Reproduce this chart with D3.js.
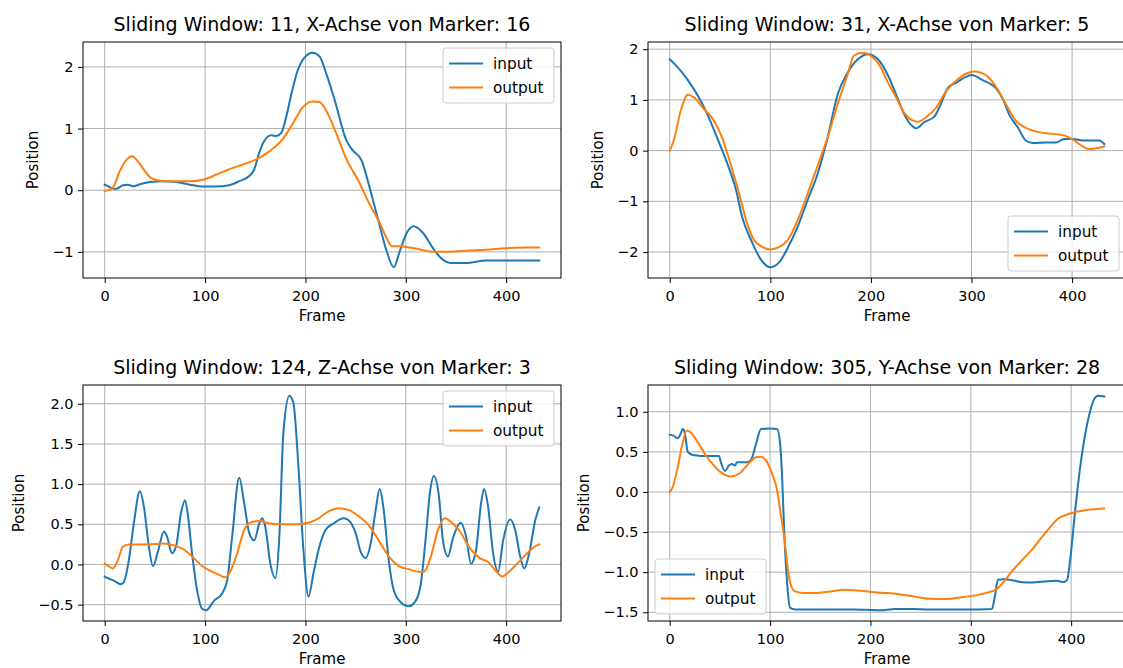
<!DOCTYPE html>
<html>
<head>
<meta charset="utf-8">
<script src="https://cdn.jsdelivr.net/npm/d3@7"></script>
<style>
  body { margin: 0; background: #fff; }
  svg { display: block; font-family: "DejaVu Sans", sans-serif; }
</style>
</head>
<body>
<div id="chart"></div>
<script>
// [frame, position]
const p1Input = [[0,0.09],[5,0.05],[11,0.02],[18,0.08],[23,0.09],[28,0.065],[36,0.10],[45,0.135],[58,0.146],[71,0.135],[85,0.09],[98,0.06],[111,0.06],[124,0.08],[134,0.146],[144,0.23],[149,0.34],[154,0.61],[159,0.80],[166,0.89],[171,0.88],[176,0.93],[181,1.20],[186,1.56],[192,1.93],[199,2.15],[207,2.23],[214,2.17],[221,1.88],[229,1.47],[241,0.80],[247,0.65],[256,0.48],[264,0.04],[272,-0.45],[281,-0.99],[288,-1.25],[294,-0.99],[301,-0.69],[308,-0.585],[317,-0.69],[327,-0.94],[335,-1.10],[345,-1.18],[360,-1.18],[380,-1.14],[400,-1.14],[420,-1.14],[433,-1.14]];
const p1Output = [[0,-0.015],[8,0.04],[15,0.31],[22,0.50],[27,0.55],[33,0.47],[40,0.31],[46,0.20],[58,0.146],[71,0.146],[85,0.146],[98,0.17],[111,0.25],[124,0.34],[138,0.42],[151,0.50],[164,0.63],[177,0.82],[187,1.07],[197,1.34],[207,1.44],[214,1.43],[221,1.28],[231,0.91],[241,0.50],[253,0.146],[264,-0.23],[274,-0.53],[281,-0.78],[286,-0.91],[294,-0.91],[304,-0.93],[314,-0.96],[327,-1.00],[340,-1.00],[360,-0.98],[380,-0.965],[400,-0.94],[420,-0.93],[433,-0.93]];

const p2Input = [[0,1.80],[8,1.64],[18,1.39],[28,1.08],[38,0.69],[47,0.26],[59,-0.35],[66,-0.78],[72,-1.31],[81,-1.77],[91,-2.16],[100,-2.30],[109,-2.20],[117,-1.93],[127,-1.51],[137,-0.98],[147,-0.46],[157,0.26],[167,1.11],[177,1.54],[187,1.80],[197,1.90],[207,1.80],[217,1.48],[225,1.11],[233,0.72],[242,0.47],[245,0.44],[253,0.56],[263,0.67],[268,0.85],[277,1.25],[285,1.34],[293,1.44],[300,1.49],[311,1.39],[325,1.21],[331,1.02],[338,0.69],[346,0.46],[354,0.20],[361,0.15],[374,0.16],[384,0.16],[392,0.23],[401,0.23],[411,0.20],[421,0.20],[427,0.20],[432,0.13]];
const p2Output = [[0,0],[4,0.20],[11,0.79],[18,1.10],[24,1.05],[34,0.82],[44,0.59],[52,0.26],[61,-0.30],[69,-0.85],[77,-1.44],[84,-1.77],[92,-1.90],[100,-1.95],[109,-1.90],[117,-1.77],[127,-1.38],[137,-0.85],[147,-0.30],[157,0.26],[167,0.92],[177,1.51],[183,1.87],[192,1.93],[200,1.87],[209,1.67],[217,1.34],[225,1.05],[233,0.75],[242,0.59],[247,0.57],[255,0.66],[265,0.85],[275,1.18],[285,1.38],[295,1.52],[303,1.56],[315,1.48],[326,1.21],[336,0.85],[344,0.59],[354,0.45],[368,0.36],[381,0.33],[392,0.30],[402,0.20],[411,0.08],[417,0.03],[425,0.05],[432,0.08]];

const p3Input = [[0,-0.15],[4,-0.175],[9,-0.20],[16,-0.245],[19,-0.22],[24,0.05],[29,0.51],[35,0.91],[39,0.72],[44,0.22],[48,-0.02],[53,0.16],[59,0.41],[62,0.35],[67,0.14],[71,0.22],[76,0.64],[80,0.80],[83,0.60],[87,0.14],[92,-0.32],[97,-0.55],[101,-0.57],[109,-0.45],[117,-0.36],[122,-0.20],[127,0.35],[134,1.08],[139,0.76],[144,0.39],[149,0.30],[154,0.51],[157,0.575],[160,0.47],[165,0.01],[170,-0.17],[174,0.35],[178,1.64],[184,2.10],[188,2.01],[193,1.22],[198,0.18],[203,-0.40],[208,-0.11],[213,0.18],[220,0.43],[228,0.51],[238,0.575],[243,0.55],[250,0.39],[255,0.16],[260,0.08],[265,0.26],[270,0.68],[274,0.94],[278,0.68],[283,0.05],[288,-0.32],[295,-0.47],[303,-0.52],[310,-0.45],[315,-0.24],[320,0.35],[324,0.89],[328,1.10],[333,0.85],[337,0.30],[342,0.10],[347,0.33],[355,0.52],[360,0.35],[365,0.01],[370,0.18],[375,0.76],[378,0.94],[382,0.72],[387,0.14],[392,-0.09],[397,0.30],[404,0.56],[409,0.43],[414,0.10],[418,-0.05],[423,0.14],[429,0.55],[433,0.71]];
const p3Output = [[0,0.01],[4,-0.02],[8,-0.05],[13,0.05],[18,0.22],[24,0.25],[38,0.25],[51,0.254],[57,0.26],[71,0.23],[77,0.20],[87,0.10],[97,-0.02],[107,-0.09],[114,-0.13],[120,-0.16],[125,-0.09],[132,0.14],[139,0.43],[145,0.52],[154,0.54],[164,0.51],[177,0.50],[190,0.50],[203,0.52],[213,0.575],[223,0.66],[233,0.70],[243,0.68],[253,0.60],[263,0.49],[273,0.30],[283,0.10],[293,-0.02],[303,-0.06],[313,-0.09],[318,-0.09],[325,0.10],[332,0.43],[339,0.575],[345,0.53],[354,0.41],[364,0.20],[374,0.075],[382,0.03],[389,-0.07],[396,-0.15],[401,-0.11],[411,0.01],[421,0.14],[428,0.22],[433,0.25]];

const p4Input = [[0,0.715],[4,0.70],[8,0.67],[11,0.73],[13,0.785],[15,0.74],[18,0.50],[23,0.46],[31,0.45],[44,0.45],[49,0.45],[51,0.37],[55,0.26],[59,0.33],[62,0.35],[65,0.33],[67,0.37],[77,0.37],[81,0.40],[86,0.60],[91,0.785],[100,0.79],[107,0.785],[110,0.60],[112,0.19],[114,-0.475],[117,-1.14],[120,-1.445],[125,-1.465],[137,-1.465],[160,-1.465],[183,-1.465],[209,-1.475],[225,-1.46],[242,-1.46],[258,-1.465],[275,-1.465],[291,-1.465],[308,-1.465],[321,-1.46],[324,-1.30],[327,-1.095],[333,-1.087],[341,-1.10],[351,-1.125],[361,-1.128],[374,-1.115],[386,-1.107],[392,-1.124],[396,-1.095],[399,-0.85],[404,-0.23],[409,0.31],[414,0.72],[419,1.01],[423,1.16],[427,1.20],[433,1.19]];
const p4Output = [[0,0],[3,0.06],[8,0.31],[13,0.62],[17,0.765],[21,0.74],[28,0.62],[36,0.455],[44,0.33],[52,0.235],[61,0.194],[69,0.227],[77,0.33],[86,0.434],[91,0.44],[96,0.39],[102,0.227],[107,0.02],[110,-0.227],[114,-0.56],[117,-0.89],[120,-1.136],[125,-1.24],[134,-1.26],[144,-1.26],[160,-1.24],[174,-1.22],[187,-1.227],[203,-1.25],[217,-1.26],[225,-1.27],[242,-1.30],[258,-1.33],[275,-1.335],[291,-1.314],[308,-1.28],[318,-1.25],[326,-1.21],[333,-1.116],[341,-0.99],[351,-0.85],[361,-0.72],[371,-0.56],[381,-0.41],[387,-0.33],[394,-0.29],[404,-0.25],[414,-0.227],[424,-0.215],[433,-0.207]];

const titles = [
    "Sliding Window: 11, X-Achse von Marker: 16",
    "Sliding Window: 31, X-Achse von Marker: 5",
    "Sliding Window: 124, Z-Achse von Marker: 3",
    "Sliding Window: 305, Y-Achse von Marker: 28"
];
const seriesNames = ["input", "output"];
const xTicks = [0, 100, 200, 300, 400];
const p1YTicks = [-1, 0, 1, 2];
const p2YTicks = [-2, -1, 0, 1, 2];
const p3YTicks = [-0.5, 0, 0.5, 1, 1.5, 2];
const p4YTicks = [-1.5, -1, -0.5, 0, 0.5, 1];

const colors = ["#1f77b4", "#ff7f0e"];
const W = 1123, H = 668;
const pw = 478, ph = 236;

const panels = [
    {title: titles[0], series: [p1Input, p1Output], yTicks: p1YTicks, fmt: "d", legend: "ur", left: 83, top: 42},
    {title: titles[1], series: [p2Input, p2Output], yTicks: p2YTicks, fmt: "d", legend: "lr", left: 648, top: 42},
    {title: titles[2], series: [p3Input, p3Output], yTicks: p3YTicks, fmt: ".1f", legend: "ur", left: 83, top: 385},
    {title: titles[3], series: [p4Input, p4Output], yTicks: p4YTicks, fmt: ".1f", legend: "ll", left: 648, top: 385}
];

const svg = d3.select("#chart").append("svg")
    .attr("width", W)
    .attr("height", H);

function margin(ext) {
    const m = (ext[1] - ext[0]) * 0.05;
    return [ext[0] - m, ext[1] + m];
}

panels.forEach(p => {
    const all = p.series.flat();
    const x = d3.scaleLinear()
        .domain(margin(d3.extent(all, d => d[0])))
        .range([0, pw]);
    const y = d3.scaleLinear()
        .domain(margin(d3.extent(all, d => d[1])))
        .range([ph, 0]);

    const g = svg.append("g")
        .attr("transform", `translate(${p.left},${p.top})`);

    // grid
    g.append("g")
        .selectAll("line")
        .data(xTicks)
        .join("line")
        .attr("x1", d => x(d)).attr("x2", d => x(d))
        .attr("y1", 0).attr("y2", ph)
        .attr("stroke", "#b0b0b0")
        .attr("stroke-width", 1);
    g.append("g")
        .selectAll("line")
        .data(p.yTicks)
        .join("line")
        .attr("x1", 0).attr("x2", pw)
        .attr("y1", d => y(d)).attr("y2", d => y(d))
        .attr("stroke", "#b0b0b0")
        .attr("stroke-width", 1);

    const line = d3.line()
        .x(d => x(d[0]))
        .y(d => y(d[1]))
        .curve(d3.curveMonotoneX);

    g.append("g")
        .selectAll("path")
        .data(p.series)
        .join("path")
        .attr("fill", "none")
        .attr("stroke", (d, i) => colors[i])
        .attr("stroke-width", 2)
        .attr("stroke-linejoin", "round")
        .attr("stroke-linecap", "square")
        .attr("d", line);

    // axes
    const xa = g.append("g")
        .attr("transform", `translate(0,${ph})`)
        .call(d3.axisBottom(x).tickValues(xTicks).tickSize(5).tickPadding(7.5))
        .call(a => a.select(".domain").remove());
    const ya = g.append("g")
        .call(d3.axisLeft(y).tickValues(p.yTicks).tickFormat(d3.format(p.fmt)).tickSize(5).tickPadding(4.5))
        .call(a => a.select(".domain").remove());
    [xa, ya].forEach(a => {
        a.attr("font-family", null).attr("font-size", null);
        a.selectAll("text").attr("fill", "#000").style("font-size", "14.5px");
        a.selectAll("line").attr("stroke", "#000");
    });

    g.append("rect")
        .attr("width", pw)
        .attr("height", ph)
        .attr("fill", "none")
        .attr("stroke", "#000")
        .attr("stroke-width", 1);

    g.append("text")
        .attr("x", pw / 2)
        .attr("y", -11)
        .attr("text-anchor", "middle")
        .style("font-size", "19px")
        .text(p.title);

    g.append("text")
        .attr("x", pw / 2)
        .attr("y", ph + 43)
        .attr("text-anchor", "middle")
        .style("font-size", "15px")
        .text("Frame");

    const yb = ya.node().getBBox();
    g.append("text")
        .attr("transform", `translate(${yb.x - 14.5},${ph / 2}) rotate(-90)`)
        .attr("text-anchor", "middle")
        .style("font-size", "15px")
        .text("Position");

    // legend
    const lw = 111, lh = 55, inset = 7;
    const lx = p.legend == "ll" ? inset : pw - inset - lw;
    const ly = p.legend == "ur" ? inset - 1 : ph - inset - lh;
    const lg = g.append("g").attr("transform", `translate(${lx},${ly})`);
    lg.append("rect")
        .attr("width", lw)
        .attr("height", lh)
        .attr("rx", 3)
        .attr("fill", "#fff")
        .attr("fill-opacity", 0.8)
        .attr("stroke", "#cccccc")
        .attr("stroke-width", 1);
    const item = lg.selectAll("g")
        .data(seriesNames)
        .join("g")
        .attr("transform", (d, i) => `translate(0,${15.5 + i * 24})`);
    item.append("line")
        .attr("x1", 6).attr("x2", 40)
        .attr("stroke", (d, i) => colors[i])
        .attr("stroke-width", 2);
    item.append("text")
        .attr("x", 50)
        .attr("y", 5)
        .style("font-size", "15.3px")
        .text(d => d);
});
</script>
</body>
</html>
